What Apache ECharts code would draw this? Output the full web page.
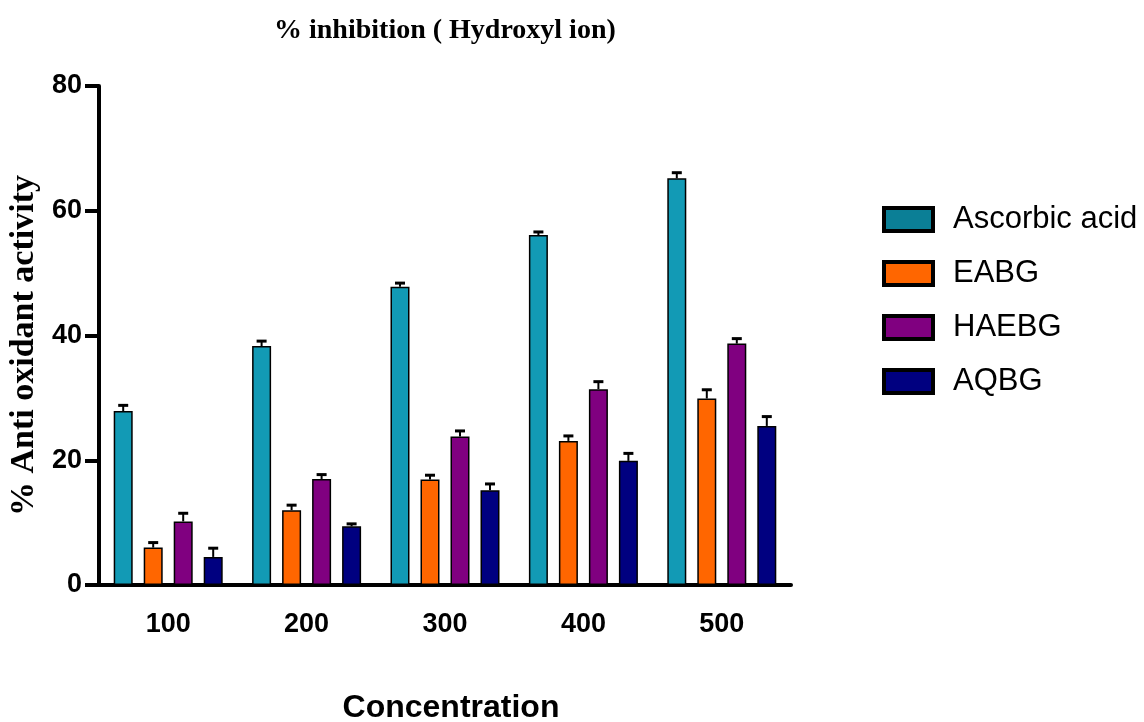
<!DOCTYPE html>
<html>
<head>
<meta charset="utf-8">
<script src="https://cdn.jsdelivr.net/npm/echarts@6/dist/echarts.min.js"></script>
<style>
  html, body { margin: 0; padding: 0; background: #ffffff; }
  #main { width: 1144px; height: 722px; }
</style>
</head>
<body>
<div id="main"></div>
<script>
(function() {
    // data
    var concentrations = ['100', '200', '300', '400', '500'];
    var seriesNames = ['Ascorbic acid', 'EABG', 'HAEBG', 'AQBG'];
    var ascorbic = [27.9, 38.3, 47.8, 56.1, 65.2];
    var eabg = [6.0, 12.0, 16.9, 23.1, 29.9];
    var haebg = [10.2, 17.0, 23.8, 31.4, 38.7];
    var aqbg = [4.5, 9.4, 15.2, 19.9, 25.5];
    // error (upper only)
    var ascorbicErr = [0.9, 0.8, 0.6, 0.5, 0.9];
    var eabgErr = [0.8, 0.8, 0.7, 0.8, 1.4];
    var haebgErr = [1.3, 0.7, 0.9, 1.2, 0.8];
    var aqbgErr = [1.4, 0.4, 1.0, 1.2, 1.5];
    var yTicks = [0, 20, 40, 60, 80];

    var colors = ['#129ab5', '#ff6600', '#800080', '#000080'];
    var legendColors = ['#0b7f96', '#ff6600', '#800080', '#000080'];
    var values = [ascorbic, eabg, haebg, aqbg];
    var errs = [ascorbicErr, eabgErr, haebgErr, aqbgErr];

    var barW = 19, barGapPx = 11;

    var myChart = echarts.init(document.getElementById('main'));

    var series = [];
    values.forEach(function(v, i) {
        series.push({
            name: seriesNames[i],
            type: 'bar',
            data: v,
            barWidth: barW,
            barGap: (barGapPx / barW * 100) + '%',
            itemStyle: { color: colors[i], borderColor: '#000', borderWidth: 1.5 },
            z: 2
        });
    });
    // error bars
    values.forEach(function(v, i) {
        var offset = (i - 1.5) * (barW + barGapPx);
        series.push({
            name: 'err' + i,
            type: 'custom',
            z: 3,
            data: v.map(function(val, k) { return [k, val, errs[i][k]]; }),
            encode: { x: 0, y: 1 },
            renderItem: function(params, api) {
                var base = api.coord([api.value(0), api.value(1)]);
                var top = api.coord([api.value(0), api.value(1) + api.value(2)]);
                var cx = base[0] + offset;
                return {
                    type: 'group',
                    children: [
                        { type: 'line', shape: { x1: cx, y1: base[1], x2: cx, y2: top[1] },
                          style: { stroke: '#000', lineWidth: 2 } },
                        { type: 'line', shape: { x1: cx - 5, y1: top[1], x2: cx + 5, y2: top[1] },
                          style: { stroke: '#000', lineWidth: 3 } }
                    ]
                };
            }
        });
    });

    var option = {
        backgroundColor: '#ffffff',
        animation: false,
        title: {
            text: '% inhibition ( Hydroxyl ion)',
            left: 269,
            top: 12,
            textStyle: { fontFamily: 'Liberation Serif', fontWeight: 'bold', fontSize: 28, color: '#000' }
        },
        legend: {
            orient: 'vertical',
            left: 877,
            top: 199,
            itemWidth: 49,
            itemHeight: 23,
            itemGap: 23,
            icon: 'rect',
            data: seriesNames.map(function(n, i) {
                return { name: n, itemStyle: { color: legendColors[i], borderColor: '#000', borderWidth: 4 } };
            }),
            textStyle: { fontFamily: 'Liberation Sans', fontSize: 31, color: '#000', padding: [0, 0, 0, 15] }
        },
        grid: { left: 99, right: 353, top: 86, bottom: 137, outerBoundsMode: 'none' },
        xAxis: {
            type: 'category',
            data: concentrations,
            name: 'Concentration',
            nameLocation: 'middle',
            nameGap: 107,
            nameTextStyle: { fontFamily: 'Liberation Sans', fontWeight: 'bold', fontSize: 32, color: '#000', verticalAlign: 'top', padding: [0, 0, 0, 12] },
            axisLine: { lineStyle: { color: '#000', width: 4 } },
            axisTick: { alignWithLabel: true, length: 14, lineStyle: { color: '#000', width: 4 } },
            axisLabel: { fontFamily: 'Liberation Sans', fontWeight: 'bold', fontSize: 27, color: '#000', margin: 26 }
        },
        yAxis: {
            type: 'value',
            min: yTicks[0],
            max: yTicks[yTicks.length - 1],
            interval: yTicks[1] - yTicks[0],
            name: '% Anti oxidant activity',
            nameLocation: 'middle',
            nameGap: 53,
            nameTextStyle: { fontFamily: 'Liberation Serif', fontWeight: 'bold', fontSize: 34, color: '#000', padding: [0, 20, 0, 0] },
            axisLine: { show: true, lineStyle: { color: '#000', width: 4 } },
            axisTick: { show: true, length: 14, lineStyle: { color: '#000', width: 4 } },
            splitLine: { show: false },
            axisLabel: { fontFamily: 'Liberation Sans', fontWeight: 'bold', fontSize: 27, color: '#000', margin: 17 }
        },
        series: series
    };

    myChart.setOption(option);

    window.onresize = function() {
        myChart.resize();
    };
})();
</script>
</body>
</html>
